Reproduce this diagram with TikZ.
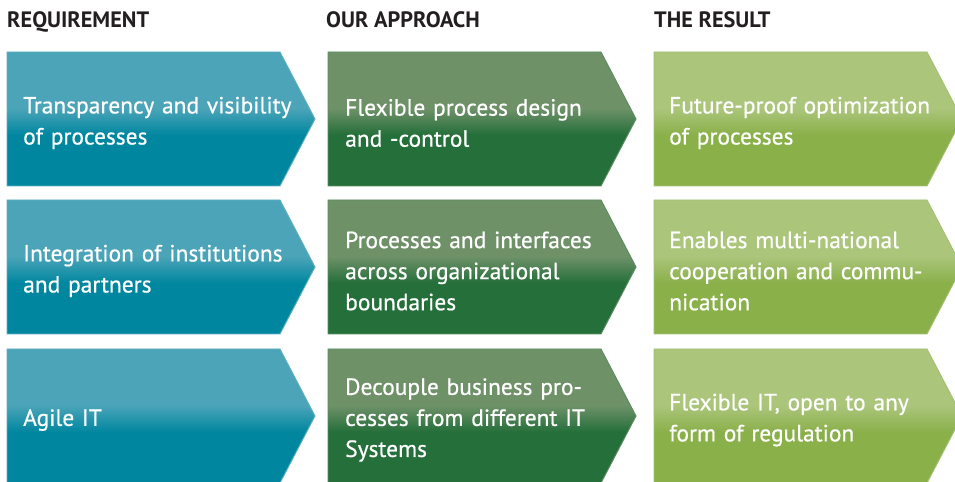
\documentclass[tikz,border=0pt]{standalone}
\usepackage{fontspec}
\setmainfont{PT Sans}
\newfontfamily\boxfont[FakeBold=0.6]{PT Sans}
\usepackage{tikz}
\usetikzlibrary{positioning}

\definecolor{reqtop}{HTML}{4BA4B8}
\definecolor{reqbot}{HTML}{00879F}
\definecolor{reqline}{HTML}{5FB0C2}
\definecolor{apptop}{HTML}{6E9168}
\definecolor{appbot}{HTML}{246F3A}
\definecolor{appline}{HTML}{5C8C60}
\definecolor{restop}{HTML}{ABC57B}
\definecolor{resbot}{HTML}{8AB04A}
\definecolor{resline}{HTML}{A3C172}
\definecolor{headtext}{HTML}{231F20}

\pgfdeclareverticalshading{reqshade}{100bp}{color(0bp)=(reqbot!60!white); color(3bp)=(reqbot); color(44bp)=(reqbot); color(54bp)=(reqtop); color(98bp)=(reqtop); color(100bp)=(reqtop!70!white)}
\pgfdeclareverticalshading{appshade}{100bp}{color(0bp)=(appbot!60!white); color(3bp)=(appbot); color(44bp)=(appbot); color(54bp)=(apptop); color(98bp)=(apptop); color(100bp)=(apptop!70!white)}
\pgfdeclareverticalshading{resshade}{100bp}{color(0bp)=(resbot!60!white); color(3bp)=(resbot); color(44bp)=(resbot); color(54bp)=(restop); color(98bp)=(restop); color(100bp)=(restop!70!white)}

% one arrow box: left x, top y, colour set
\newcommand{\chevron}[3]{%
	\shade[chevron=#3] (#1,#2) -- ++(273,0) -- ++(35,-67) -- ++(-35,-67) -- ++(-273,0) -- cycle;}

\begin{document}
\begin{tikzpicture}[%
		x=0.03cm, y=0.03cm,
		chevron/.style={draw=#1line, line width=0.8pt, shading=#1shade},
		header/.style={anchor=base west, inner sep=0pt, text=headtext,
			font=\bfseries\fontsize{19}{22}\selectfont},
		boxtext/.style={anchor=west, inner sep=0pt, text=white, align=left,
			text width=8.8cm, font=\boxfont\fontsize{20}{26.5}\selectfont}
	]
	\useasboundingbox (0,0) rectangle (955,482);

	\foreach \y in {430,282,133} {
		\chevron{7}{\y}{req}
		\chevron{328}{\y}{app}
		\chevron{654}{\y}{res}
	}

	\node[header] (hreq) at (7,454) {REQUIREMENT};
	\node[header] (happ) at (326,454) {OUR APPROACH};
	\node[header] (hres) at (654,454) {THE RESULT};

	\node[boxtext] (req1) at (23,359) {Transparency and visibility\\of processes};
	\node[boxtext] (req2) at (23,211) {Integration of institutions\\and partners};
	\node[boxtext] (req3) at (23,62) {Agile IT};

	\node[boxtext] (app1) at (345,359) {Flexible process design\\and -control};
	\node[boxtext] (app2) at (345,211) {Processes and interfaces\\across organizational\\boundaries};
	\node[boxtext] (app3) at (345,62) {Decouple business pro-\\cesses from different IT\\Systems};

	\node[boxtext] (res1) at (669,359) {Future-proof optimization\\of processes};
	\node[boxtext] (res2) at (669,211) {Enables multi-national\\cooperation and commu-\\nication};
	\node[boxtext] (res3) at (669,62) {Flexible IT, open to any\\form of regulation};
\end{tikzpicture}
\end{document}
